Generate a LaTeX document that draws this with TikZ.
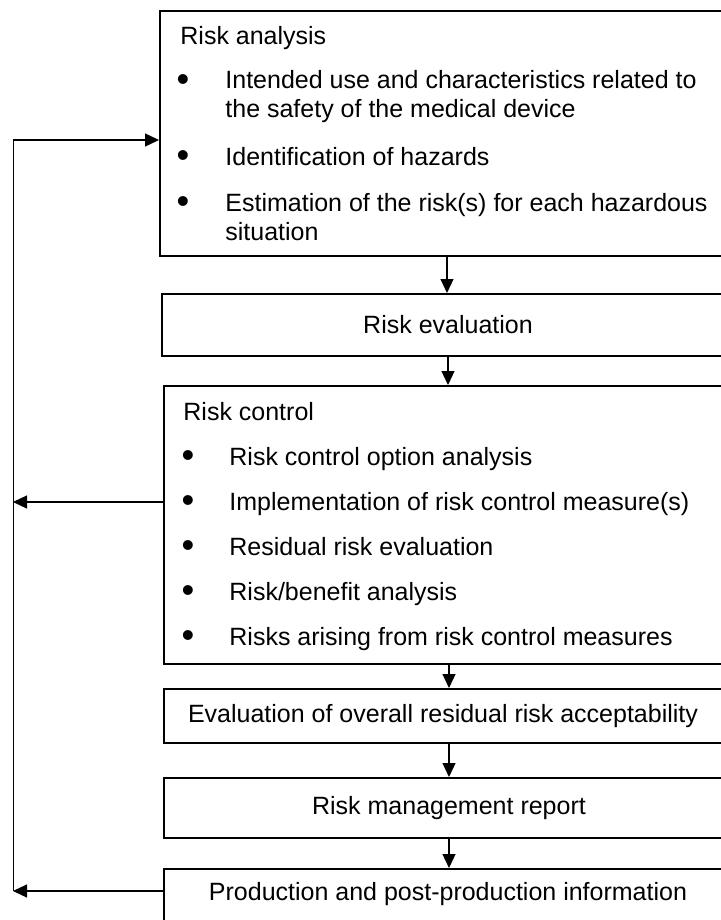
\documentclass[tikz,border=0pt]{standalone}
\usepackage{fontspec}
\setmainfont{Liberation Sans}
\usetikzlibrary{arrows.meta,positioning}
\definecolor{rmInk}{HTML}{000000}
\tikzset{
  rm diagram/.style={font=\fontsize{12.5}{14.5}\selectfont, text=rmInk,
    line join=miter},
  rm box/.style={draw=rmInk, fill=white, line width=1pt, anchor=north west,
    inner sep=0pt, minimum width=285pt, align=center},
  rm text/.style={anchor=base west, inner sep=0pt},
  rm bullet/.style={anchor=base, inner sep=0pt},
  rm arrow/.style={-{Triangle[length=7pt,width=6.5pt]}, draw=rmInk, line width=0.6pt},
  rm line/.style={draw=rmInk, line width=0.5pt}
}
\newcommand{\rmdot}{\scalebox{1.45}{•}}
\begin{document}
\begin{tikzpicture}[rm diagram,x=0.5pt,y=-0.5pt]
\clip (0,0) rectangle (721,920);
% boxes
\node[rm box,minimum width=287pt,minimum height=122.5pt] (ra) at (159,10) {};
\node[rm box,minimum width=286pt,minimum height=31pt] (re) at (161,293) {Risk evaluation};
\node[rm box,minimum height=139pt] (rc) at (163,385) {};
\node[rm box,minimum height=27pt] (eo) at (163,688) {\hspace*{-6pt}Evaluation of overall residual risk acceptability};
\node[rm box,minimum height=30pt] (mr) at (163,777) {Risk management report};
\node[rm box,minimum height=31pt] (pp) at (163,868) {};
\node[anchor=base,inner sep=0pt] (pp text) at (448,900) {Production and post-production information};
% risk analysis
\node[rm text] (ra head) at (180,45) {Risk analysis};
\node[rm bullet] (ra b1) at (183,91) {\rmdot};
\node[rm text] (ra t1) at (225,89) {Intended use and characteristics related to};
\node[rm text] (ra t1b) at (225,118) {the safety of the medical device};
\node[rm bullet] (ra b2) at (183,167) {\rmdot};
\node[rm text] (ra t2) at (225,165) {Identification of hazards};
\node[rm bullet] (ra b3) at (183,213) {\rmdot};
\node[rm text] (ra t3) at (225,211) {Estimation of the risk(s) for each hazardous};
\node[rm text] (ra t3b) at (225,240) {situation};
% risk control
\node[rm text] (rc head) at (183,420) {Risk control};
\foreach \y/\txt [count=\i] in {465/{Risk control option analysis},
    510/{Implementation of risk control measure(s)},
    555/{Residual risk evaluation},
    600/{Risk/benefit analysis},
    645/{Risks arising from risk control measures}}{
  \node[rm bullet] (rc b\i) at (188,\y+2) {\rmdot};
  \node[rm text] (rc t\i) at (229,\y) {\txt};
}
% flow
\draw[rm arrow] (ra.south) -- (ra.south |- re.north);
\draw[rm arrow] (re.south) -- (re.south |- rc.north);
\draw[rm arrow] (rc.south) -- (eo.north);
\draw[rm arrow] (eo.south) -- (mr.north);
\draw[rm arrow] (mr.south) -- (pp.north);
% feedback loop
\coordinate (loop top) at (13,140);
\coordinate (loop mid) at (13,502);
\coordinate (loop bot) at (13,891);
\draw[rm line] (loop bot) -- (loop top);
\draw[rm arrow] (loop top) -- (loop top -| ra.west);
\draw[rm arrow] (loop mid -| rc.west) -- (loop mid);
\draw[rm arrow] (loop bot -| pp.west) -- (loop bot);
\end{tikzpicture}
\end{document}
